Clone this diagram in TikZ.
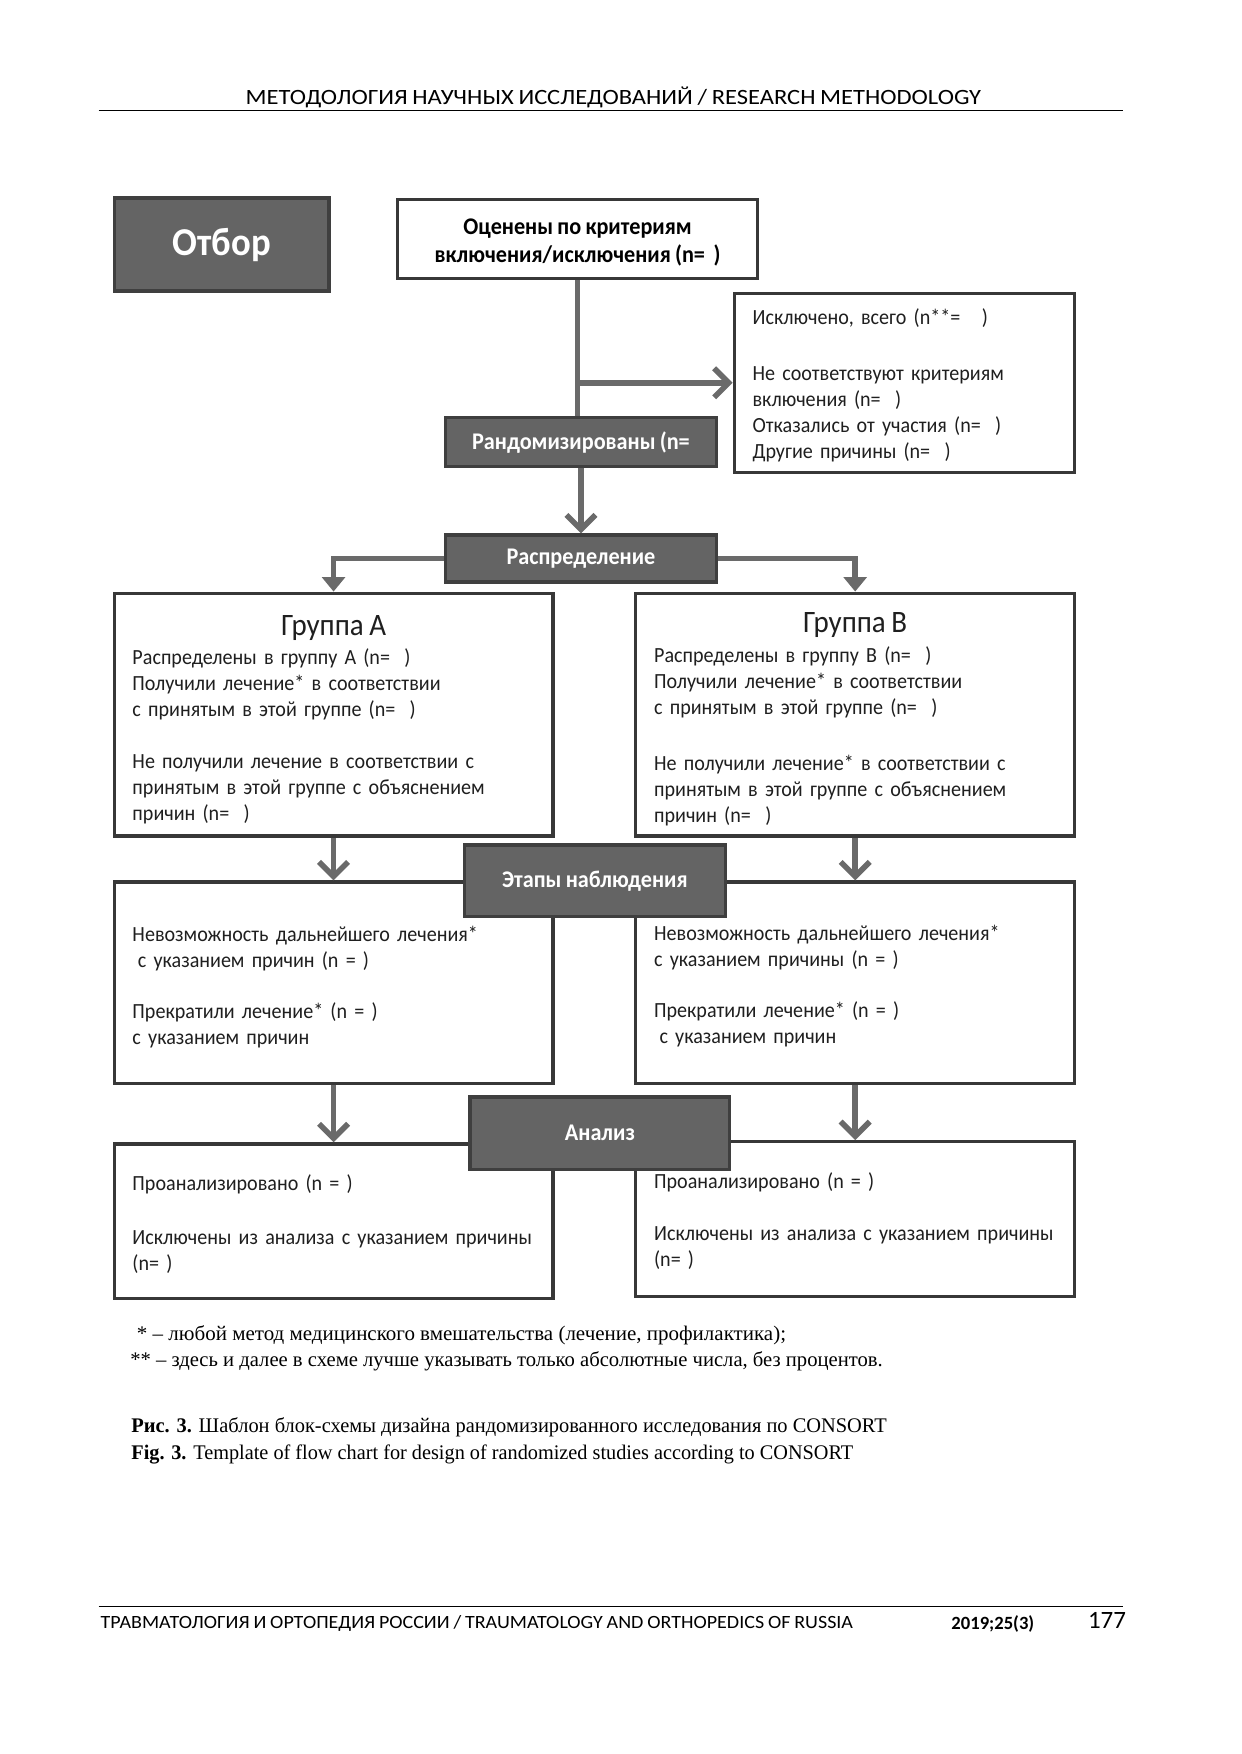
\documentclass[tikz,border=0pt]{standalone}
\usepackage{fontspec}
\setmainfont{Carlito}
\newfontfamily\boxfont[FakeStretch=0.93,WordSpace=0.85]{Carlito}
\newfontfamily\journalserif{Liberation Serif}
\usetikzlibrary{arrows.meta,fit,positioning}

\definecolor{stagefill}{HTML}{646464}
\definecolor{stageline}{HTML}{3F3F3F}
\definecolor{boxline}{HTML}{383838}
\definecolor{flowline}{HTML}{6A6A6A}

\newcommand{\fitwidth}[2]{\resizebox{#1}{\height}{#2}}

\tikzset{
  whitebox/.style={draw=boxline, line width=1.6pt, fill=white, inner sep=0pt},
  stagebox/.style={draw=stageline, line width=1.6pt, fill=stagefill, inner sep=0pt},
  stagelabel/.style={inner sep=0pt, text=white, font=\boxfont\fontsize{11.5}{13}\selectfont\bfseries},
  boxtext/.style={anchor=base west, inner sep=0pt, text width=80mm, align=left,
    text=black!88, font=\boxfont\fontsize{10.4}{12.45}\selectfont},
  flow/.style={draw=flowline, line width=2.7pt, -{Straight Barb[length=7pt,width=14pt]}},
  branch/.style={draw=flowline, line width=2.7pt, -{Triangle[length=7pt,width=11pt]}},
  trunk/.style={draw=flowline, line width=2.7pt},
  notetext/.style={anchor=base west, inner sep=0pt, font=\journalserif\fontsize{10}{12}\selectfont}
}

\begin{document}
\begin{tikzpicture}[x=0.18936mm, y=-0.18936mm]
\useasboundingbox (0,0) rectangle (1109,1567);

% running head
\node (runHead) at (548,87) {\fitwidth{124.4mm}{\boxfont\fontsize{10.5}{12}\selectfont МЕТОДОЛОГИЯ НАУЧНЫХ ИССЛЕДОВАНИЙ / RESEARCH METHODOLOGY}};
\draw[line width=0.6pt] (88,99) -- (1003,99);

% white boxes
\node[whitebox, fit={(355,178) (677,249)}] (critBox) {};
\node[align=center, inner sep=0pt, font=\boxfont\fontsize{11.5}{13.5}\selectfont\bfseries] (critText)
  at ([yshift=-1.6pt]critBox.center) {Оценены по критериям\\включения/исключения (n=~~)};
\node[whitebox, fit={(656,262) (960,422)}] (exclBox) {};
\node[whitebox, fit={(102,530) (494,747)}] (grpA) {};
\node[whitebox, fit={(568,530) (960,747)}] (grpB) {};
\node[whitebox, fit={(102,788) (494,968)}] (followA) {};
\node[whitebox, fit={(568,788) (960,968)}] (followB) {};
\node[whitebox, fit={(102,1022) (494,1160)}] (analysisA) {};
\node[whitebox, fit={(568,1020) (960,1158)}] (analysisB) {};

% box texts
\node[boxtext] (exclText) at (672,290) {Исключено, всего (n**=~~~)\\[14.6pt]
  Не соответствуют критериям\\ включения (n=~~)\\ Отказались от участия (n=~~)\\ Другие причины (n=~~)};

\node[font=\boxfont\fontsize{15}{16}\selectfont, text=black!88] (grpAHead) at (298,561) {Группа А};
\node[boxtext] (grpAText) at (118,594) {Распределены в группу А (n=~~)\\ Получили лечение* в соответствии\\
  с принятым в этой группе (n=~~)\\[12.45pt] Не получили лечение в соответствии с\\
  принятым в этой группе с объяснением\\ причин (n=~~)};
\node[font=\boxfont\fontsize{15}{16}\selectfont, text=black!88] (grpBHead) at (764,558) {Группа В};
\node[boxtext] (grpBText) at (584,592) {Распределены в группу В (n=~~)\\ Получили лечение* в соответствии\\
  с принятым в этой группе (n=~~)\\[14.6pt] Не получили лечение* в соответствии с\\
  принятым в этой группе с объяснением\\ причин (n=~~)};

\node[boxtext] (followAText) at (118,841) {Невозможность дальнейшего лечения*\\
  \hspace{0.25em}с указанием причин (n = )\\[12.45pt] Прекратили лечение* (n = )\\ с указанием причин};
\node[boxtext] (followBText) at (584,840) {Невозможность дальнейшего лечения*\\
  с указанием причины (n = )\\[12.45pt] Прекратили лечение* (n = )\\ \hspace{0.25em}с указанием причин};

\node[boxtext] (analysisAText) at (118,1064) {Проанализировано (n = )\\[13.5pt]
  Исключены из анализа с указанием причины\\ (n= )};
\node[boxtext] (analysisBText) at (584,1062) {Проанализировано (n = )\\[12.45pt]
  Исключены из анализа с указанием причины\\ (n= )};

% dark stage boxes
\node[stagebox, fit={(102,177) (294,260)}] (selBox) {};
\node[stagelabel, font=\boxfont\fontsize{19}{20}\selectfont\bfseries] (selLabel) at (selBox.center) {Отбор};
\node[stagebox, fit={(398,373) (640,417)}] (randBox) {};
\node[stagelabel] (randLabel) at (randBox.center) {Рандомизированы (n=};
\node[stagebox, fit={(398,478) (640,520)}] (distBox) {};
\node[stagelabel] (distLabel) at (distBox.center) {Распределение};

% connectors
\draw[trunk] (critBox.south) -- (critBox.south |- randBox.north);
\draw[flow] (critBox.south |- exclBox.west) -- (exclBox.west);
\draw[flow] (randBox.south) -- (distBox.north);
\draw[branch] (distBox.west) -| (grpA.north);
\draw[branch] (distBox.east) -| (grpB.north);
\draw[flow] (grpA.south) -- (followA.north);
\draw[flow] (grpB.south) -- (followB.north);
\draw[flow] (followA.south) -- (analysisA.north);
\draw[flow] (followB.south) -- (analysisB.north);

\node[stagebox, fit={(415,755) (648,819)}] (followStage) {};
\node[stagelabel] (followLabel) at (followStage.center) {Этапы наблюдения};
\node[stagebox, fit={(420,980) (652,1045)}] (analysisStage) {};
\node[stagelabel] (analysisLabel) at (analysisStage.center) {Анализ};

% notes and caption
\node[notetext] (noteOne) at (122,1198) {\fitwidth{109.8mm}{* – любой метод медицинского вмешательства (лечение, профилактика);}};
\node[notetext] (noteTwo) at (116,1221) {\fitwidth{127.3mm}{** – здесь и далее в схеме лучше указывать только абсолютные числа, без процентов.}};
\node[notetext] (capRu) at (117,1280) {\fitwidth{127.8mm}{\textbf{Рис. 3.} Шаблон блок-схемы дизайна рандомизированного исследования по CONSORT}};
\node[notetext] (capEn) at (117,1304) {\fitwidth{122.1mm}{\textbf{Fig. 3.} Template of flow chart for design of randomized studies according to CONSORT}};

% running foot
\draw[line width=0.6pt] (88,1435) -- (1003,1435);
\node (runFoot) at (426,1450) {\fitwidth{127.3mm}{\boxfont\fontsize{9}{10}\selectfont ТРАВМАТОЛОГИЯ И ОРТОПЕДИЯ РОССИИ / TRAUMATOLOGY AND ORTHOPEDICS OF RUSSIA}};
\node (runYear) at (887,1451) {\fitwidth{14mm}{\fontsize{9}{10}\selectfont\bfseries 2019;25(3)}};
\node (runPage) at (989,1448) {\fontsize{12}{14}\selectfont 177};
\end{tikzpicture}
\end{document}
